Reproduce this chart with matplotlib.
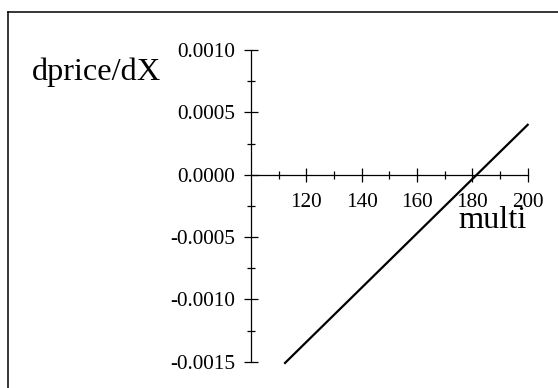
import matplotlib
matplotlib.use("Agg")
import matplotlib.pyplot as plt
from matplotlib.lines import Line2D

# values (straight line)
multi = [112.3, 181.6, 200.0]
dprice = [-0.00151, 0.0, 0.0004]

x_major = [120, 140, 160, 180, 200]
x_minor = [110, 130, 150, 170, 190]
y_major = [-0.0015, -0.0010, -0.0005, 0.0, 0.0005, 0.0010]
y_minor = [-0.00125, -0.00075, -0.00025, 0.00025, 0.00075]

plt.rcParams['font.family'] = ['Liberation Serif', 'DejaVu Serif']
plt.rcParams['axes.unicode_minus'] = False

W, H = 558, 388
fig = plt.figure(figsize=(W / 100, H / 100), dpi=100)
ax = fig.add_axes([251 / W, 1 - 361.7 / H, (527.7 - 251) / W, (361.7 - 50) / H])

ax.plot(multi, dprice, color='black', lw=1.6, clip_on=False)

ax.set_xlim(100, 200)
ax.set_ylim(-0.0015, 0.0010)

ax.spines['top'].set_visible(False)
ax.spines['right'].set_visible(False)
ax.spines['bottom'].set_position(('data', 0))
for s in ('left', 'bottom'):
    ax.spines[s].set_linewidth(0.9)

ax.set_xticks(x_major)
ax.set_xticks(x_minor, minor=True)
ax.set_yticks(y_major)
ax.set_yticks(y_minor, minor=True)
ax.set_xticklabels([str(v) for v in x_major])
ax.set_yticklabels(['%.4f' % v for v in y_major])

ax.tick_params(which='major', direction='inout', length=10, width=0.9,
               labelsize=15.3)
ax.tick_params(which='minor', direction='inout', length=5.8, width=0.9)
ax.tick_params(axis='x', which='major', pad=8)
ax.tick_params(axis='y', which='major', pad=6.5)

fig.text(32 / W, 1 - 80 / H, 'dprice/dX', fontsize=23.3, ha='left', va='baseline')
fig.text(527 / W, 1 - 228 / H, 'multi', fontsize=23.3, ha='right', va='baseline')

# frame around the graphic (left and top edges visible)
fig.add_artist(Line2D([8 / W, 8 / W], [0, 1 - 12 / H], color='black', lw=1.1,
                      transform=fig.transFigure))
fig.add_artist(Line2D([8 / W, 1], [1 - 12 / H, 1 - 12 / H], color='black', lw=1.1,
                      transform=fig.transFigure))

fig.savefig('out.png', dpi=100)
